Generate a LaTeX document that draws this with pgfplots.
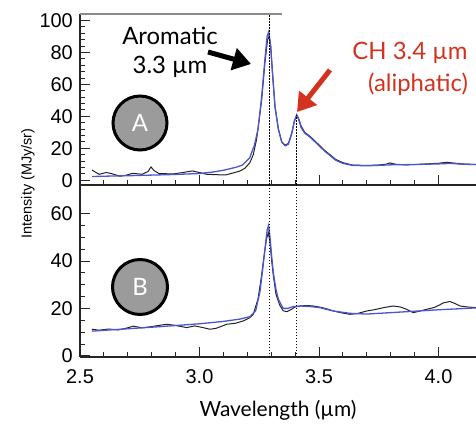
\documentclass[border=0pt]{standalone}
\usepackage{pgfplots}
\pgfplotsset{compat=1.18}
\usepackage{fontspec}
\setmainfont{Lato}
\newfontfamily\arial{Liberation Sans}
\usetikzlibrary{arrows.meta}
\definecolor{fitblue}{RGB}{75,85,210}
\definecolor{datablk}{RGB}{35,35,35}
\definecolor{annred}{RGB}{210,50,30}
\definecolor{circgray}{RGB}{155,155,155}
\pgfplotsset{mystyle/.style={
  scale only axis, width=396bp, height=171bp,
  xmin=2.5, xmax=4.157,
  axis x line=bottom, axis y line=left,
  x axis line style={-}, y axis line style={-},
  axis line style={line width=1.2bp, black!85},
  tick align=inside,
  major tick length=10bp, minor tick length=5bp,
  tick style={black!85, line width=0.8bp},
  xtick={2.5,3,3.5,4}, minor x tick num=4,
  clip=false,
  /pgf/number format/assume math mode=true,
  tick label style={font=\arial\fontsize{20}{20}\selectfont, inner sep=1.5bp},
  yticklabel style={xshift=-5.5bp},
}}
\tikzset{dotline/.style={black, line width=1.3bp, dash pattern=on 1.5bp off 1.5bp}}
\begin{document}
\begin{tikzpicture}
\path[use as bounding box] (0,0) rectangle (476bp,427bp);
% top panel
\begin{axis}[mystyle, at={(80bp,242bp)}, anchor=south west,
  ymin=-3, ymax=104, ytick={0,20,40,60,80,100}, minor y tick num=4,
  xticklabels={}]
\addplot[datablk, line width=1bp] coordinates {
(2.55,6.4)(2.565,5.0)(2.58,3.7)(2.61,4.8)(2.63,4.2)(2.667,2.5)(2.69,3.0)(2.72,4.3)
(2.76,3.7)(2.785,5.5)(2.797,8.3)(2.81,6.0)(2.83,4.2)(2.89,3.9)(2.93,4.8)(2.97,5.8)
(3.00,4.8)(3.03,3.7)(3.08,3.4)(3.11,3.3)(3.14,4.5)(3.17,5.8)(3.19,7.5)(3.211,11)
(3.225,16)(3.239,25.6)(3.26,50)(3.274,74)(3.285,88)(3.291,90)(3.298,84)(3.306,66)
(3.316,46)(3.33,32)(3.344,24)(3.358,22)(3.372,23)(3.386,29.5)(3.397,37)(3.407,40.5)
(3.415,38.5)(3.425,34)(3.44,30)(3.462,27.5)(3.48,25)(3.504,21.5)(3.525,18.5)(3.546,16)
(3.57,13)(3.60,11)(3.64,9.5)(3.70,9.2)(3.75,9.5)(3.78,10.0)(3.797,10.8)(3.82,10.0)
(3.86,9.6)(3.90,9.8)(3.95,10.2)(4.00,10.6)(4.035,11.2)(4.06,10.8)(4.10,10.2)(4.157,9.8)
};
\addplot[fitblue, line width=1.3bp] coordinates {
(2.55,2.3)(2.60,2.5)(2.70,2.8)(2.80,3.2)(2.90,3.6)(3.00,4.2)(3.05,5.0)(3.10,6.2)
(3.15,8.0)(3.18,9.5)(3.21,14)(3.23,22)(3.245,32)(3.26,52)(3.274,76)(3.283,90)
(3.290,93)(3.297,85)(3.305,68)(3.316,46)(3.33,32)(3.344,24)(3.358,21.5)(3.372,22.5)
(3.386,29)(3.397,37)(3.407,41)(3.415,38)(3.425,33)(3.44,29.5)(3.462,27)(3.48,24.5)
(3.504,21)(3.525,18)(3.546,15.5)(3.57,12.5)(3.60,10.5)(3.64,9.3)(3.70,9.0)(3.80,9.6)
(3.90,9.8)(4.00,10.2)(4.05,10.5)(4.10,10.0)(4.157,9.8)
};
\draw[dotline] (axis cs:3.293,-3) -- (axis cs:3.293,104);
\draw[dotline] (axis cs:3.405,-3) -- (axis cs:3.405,41);
\draw[black!45, line width=1.2bp] (axis cs:2.5,104) -- (axis cs:3.345,104);
\end{axis}
% bottom panel
\begin{axis}[mystyle, at={(80bp,70bp)}, anchor=south west, height=172bp,
  ymin=-0.5, ymax=72, ytick={0,20,40,60}, minor y tick num=3,
  xticklabel style={yshift=-11bp, /pgf/number format/.cd, fixed, fixed zerofill, precision=1}]
\addplot[datablk, line width=1bp] coordinates {
(2.55,11.2)(2.58,10.8)(2.62,11.3)(2.66,10.9)(2.70,11.8)(2.723,12.5)(2.76,11.8)(2.80,12.3)
(2.83,12.8)(2.863,13.3)(2.90,12.8)(2.946,11.9)(2.98,12.6)(3.01,12.0)(3.044,11.2)(3.07,11.6)
(3.114,13.3)(3.15,13.7)(3.183,14.7)(3.21,16)(3.225,17.5)(3.245,24)(3.26,34)(3.27,42)
(3.28,49)(3.288,52)(3.295,48)(3.302,40)(3.31,33)(3.32,26)(3.335,21.5)(3.35,19)
(3.365,18.6)(3.38,19.3)(3.40,20.6)(3.42,21)(3.45,21.2)(3.476,21)(3.51,20.4)(3.54,19.6)
(3.56,18.9)(3.60,18.0)(3.63,17.5)(3.66,17.8)(3.70,18.9)(3.73,19.4)(3.77,20.3)(3.81,21)
(3.84,20.6)(3.867,19.6)(3.895,18.2)(3.92,18.8)(3.95,19.6)(3.98,20.3)(4.00,21.2)(4.02,22.3)
(4.048,22.9)(4.07,22.0)(4.09,21)(4.12,20.6)(4.157,20.3)
};
\addplot[fitblue, line width=1.3bp] coordinates {
(2.55,10.4)(2.70,11.4)(2.85,12.4)(3.00,13.5)(3.10,14.5)(3.17,15.5)(3.211,16.5)(3.235,19)
(3.253,27)(3.265,37)(3.274,45)(3.283,53)(3.289,55)(3.295,50)(3.302,42)(3.309,35)
(3.32,28)(3.33,23.8)(3.35,20)(3.37,20)(3.39,20.7)(3.42,21)(3.46,20.8)(3.504,20.3)
(3.53,19.6)(3.56,18.9)(3.63,17.9)(3.70,17.6)(3.80,18.2)(3.90,18.8)(4.00,19.4)(4.157,20.2)
};
\draw[dotline] (axis cs:3.293,-0.5) -- (axis cs:3.293,72);
\draw[dotline] (axis cs:3.405,-0.5) -- (axis cs:3.405,72);
\end{axis}
% axis labels
\node[rotate=90, font=\arial\fontsize{14.5}{14.5}\selectfont] at (28bp,243.5bp) {Intensity (MJy/sr)};
\node[anchor=base, font=\fontsize{21}{21}\selectfont] at (278bp,10.5bp) {Wavelength (µm)};
% circles
\node[circle, draw=black, line width=3bp, fill=circgray, minimum size=54bp, inner sep=0pt,
  text=white, font=\fontsize{24}{24}\selectfont] at (140bp,304bp) {A};
\node[circle, draw=black, line width=3bp, fill=circgray, minimum size=55bp, inner sep=0pt,
  text=white, font=\fontsize{24}{24}\selectfont] at (140bp,140bp) {B};
% annotations
\node[anchor=base, font=\fontsize{24}{24}\selectfont] at (170bp,382bp) {Aromatic};
\node[anchor=base, font=\fontsize{24}{24}\selectfont] at (170bp,353.5bp) {3.3 µm};
\draw[line width=5bp, -{Triangle[length=18bp,width=22bp]}] (208bp,375bp) -- (251bp,363bp);
\node[anchor=base, text=annred, font=\fontsize{24}{24}\selectfont] at (410bp,367bp) {CH 3.4 µm};
\node[anchor=base, text=annred, font=\fontsize{24}{24}\selectfont] at (418bp,335bp) {(aliphatic)};
\draw[annred, line width=5bp, -{Triangle[length=18bp,width=22bp]}] (330bp,357bp) -- (297bp,315bp);
\end{tikzpicture}
\end{document}
